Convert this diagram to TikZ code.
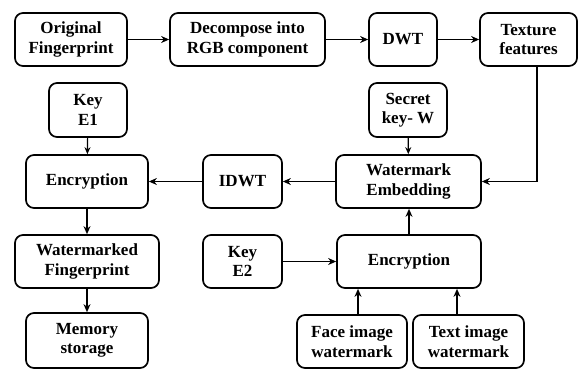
\documentclass[tikz,border=0pt]{standalone}
\usepackage{fontspec}
\setmainfont{Liberation Serif}
\newfontfamily\tnr{Liberation Serif}
\usetikzlibrary{arrows.meta}
\begin{document}
\begin{tikzpicture}[x=1pt,y=-1pt,
 box/.style={draw, line width=1.7pt, rounded corners=8pt, align=center,
   font=\tnr\bfseries\fontsize{17}{19.5}\selectfont, inner sep=0pt, minimum height=53pt},
 arr/.style={-{Stealth[length=8pt,width=7pt]}, line width=1.9pt},
 thinarr/.style={-{Stealth[length=7pt,width=6pt]}, line width=1.2pt}]
\useasboundingbox (0,0) rectangle (579,370);
\node[box, minimum width=112pt] (orig) at (71,39.5) {Original\\Fingerprint};
\node[box, minimum width=155pt] (decomp) at (247.5,39.5) {Decompose into\\RGB component};
\node[box, minimum width=68pt] (dwt) at (403,39.5) {DWT};
\node[box, minimum width=97pt] (tex) at (528.5,39.5) {Texture\\features};
\node[box, minimum width=78pt, minimum height=54pt] (key1) at (88,110) {Key\\E1};
\node[box, minimum width=78pt, minimum height=54pt] (secret) at (408,110) {Secret\\key- W};
\node[box, minimum width=122pt] (enc1) at (87,181.5) {Encryption};
\node[box, minimum width=79pt] (idwt) at (242.5,181.5) {IDWT};
\node[box, minimum width=145pt] (wme) at (408.5,181.5) {Watermark\\Embedding};
\node[box, minimum width=144pt] (wmf) at (87,261.5) {Watermarked\\Fingerprint};
\node[box, minimum width=79pt] (key2) at (242.5,261.5) {Key\\E2};
\node[box, minimum width=144pt] (enc2) at (409,261.5) {Encryption};
\node[box, minimum width=122pt, minimum height=55pt] (mem) at (87,340.5) {Memory\\storage};
\node[box, minimum width=110pt] (face) at (352,341.5) {Face image\\watermark};
\node[box, minimum width=111pt] (text) at (468.5,341.5) {Text image\\watermark};

\draw[arr] (orig) -- (decomp);
\draw[arr] (decomp) -- (dwt);
\draw[arr] (dwt) -- (tex);
\draw[arr] ([xshift=8.5pt]tex.south) |- (wme.east);
\draw[thinarr] (secret) -- (wme);
\draw[arr] (wme) -- (idwt);
\draw[arr] (idwt) -- (enc1);
\draw[thinarr] (key1) -- (enc1);
\draw[arr] (enc1) -- (wmf);
\draw[arr] (wmf) -- (mem);
\draw[arr] (key2) -- (enc2);
\draw[arr] (enc2.north) -- (enc2.north |- wme.south);
\draw[arr] ([xshift=6pt]face.north) -- ([xshift=6pt]face.north |- enc2.south);
\draw[arr] ([xshift=-11.5pt]text.north) -- ([xshift=-11.5pt]text.north |- enc2.south);
\end{tikzpicture}
\end{document}
